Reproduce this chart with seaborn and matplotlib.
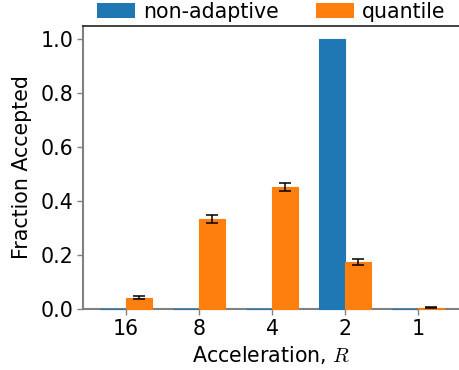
import numpy as np
import pandas as pd
import matplotlib
matplotlib.use("Agg")
import matplotlib.pyplot as plt
import seaborn as sns

# Acceptance fractions per acceleration factor
accelerations = ["16", "8", "4", "2", "1"]
methods = ["non-adaptive", "quantile"]
nonadaptive_frac = [0.0, 0.0, 0.0, 1.0, 0.0]
nonadaptive_err = [0.0, 0.0, 0.0, 0.0, 0.0]
quantile_frac = [0.042, 0.333, 0.453, 0.174, 0.005]
quantile_err = [0.006, 0.015, 0.015, 0.012, 0.002]

df = pd.DataFrame({
    "R": accelerations * 2,
    "frac": nonadaptive_frac + quantile_frac,
    "err": nonadaptive_err + quantile_err,
    "method": [methods[0]] * 5 + [methods[1]] * 5,
})

sns.set_style("ticks")
plt.rcParams["font.family"] = ["DejaVu Sans"]
plt.rcParams["mathtext.fontset"] = "cm"
for key in ["text.color", "axes.labelcolor", "xtick.color", "ytick.color"]:
    plt.rcParams[key] = "black"

fig = plt.figure(figsize=(4.6, 3.7), dpi=100)
ax = fig.add_axes([0.1804, 0.1649, 0.8196, 0.7649])

palette = {"non-adaptive": "#1f77b4", "quantile": "#ff7f0e"}
sns.barplot(data=df, x="R", y="frac", hue="method", order=accelerations,
            hue_order=methods, palette=palette, width=0.71, errorbar=None,
            saturation=1, linewidth=0, ax=ax)

# thin outline in the bar colour so zero-height bars remain visible
bars = list(ax.patches)[:10]
for p in bars:
    p.set_edgecolor(p.get_facecolor())
    p.set_linewidth(0.8)
    p.set_zorder(2.6)
    p.set_clip_on(False)

# error bars at the centre of each drawn bar
errs = nonadaptive_err + quantile_err
vals = nonadaptive_frac + quantile_frac
for p, e, v in zip(bars, errs, vals):
    if e <= 0:
        continue
    cx = p.get_x() + p.get_width() / 2
    ax.errorbar(cx, v, yerr=e, fmt="none", ecolor="black", elinewidth=1.1,
                capsize=4.3, capthick=1.1, zorder=5)

ax.set_xlim(-0.59, 4.57)
ax.set_ylim(0, 1.048)
ax.set_yticks([0.0, 0.2, 0.4, 0.6, 0.8, 1.0])
ax.set_yticklabels(["0.0", "0.2", "0.4", "0.6", "0.8", "1.0"])

fs = 14.8
ax.tick_params(axis="both", labelsize=fs, length=4, width=1, color="#808080",
               labelcolor="black", direction="out", bottom=True, left=True,
               pad=3)
ax.set_xlabel("Acceleration, $R$", fontsize=fs, labelpad=4)
ax.set_ylabel("Fraction Accepted", fontsize=fs, labelpad=6)

for side in ["left", "bottom"]:
    ax.spines[side].set_color("#808080")
    ax.spines[side].set_linewidth(1.5)
ax.spines["top"].set_visible(True)
ax.spines["top"].set_color("#222222")
ax.spines["top"].set_linewidth(1.2)
ax.spines["right"].set_visible(False)

handles, labels = ax.get_legend_handles_labels()
ax.legend(handles, labels, loc="lower center", bbox_to_anchor=(0.5, 1.015),
          ncol=2, frameon=False, fontsize=fs, handlelength=1.85,
          handleheight=0.7, handletextpad=0.4, columnspacing=1.8,
          borderaxespad=0.0, borderpad=0.0)

fig.savefig("out.png", dpi=100)
